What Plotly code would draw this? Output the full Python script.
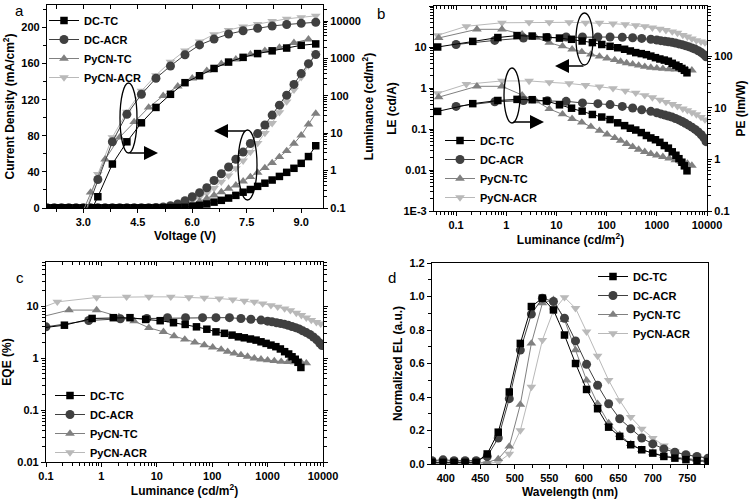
import plotly.graph_objects as go

W, H = 750, 504
FONT = "Liberation Sans, Arial, sans-serif"

# ---------------- data ----------------
series = ["DC-TC", "DC-ACR", "PyCN-TC", "PyCN-ACR"]

# panel a: current density vs voltage
volt_j = [2.0, 2.2, 2.4, 2.6, 2.8, 3.0, 3.2, 3.4, 3.6, 3.8, 4.0, 4.2, 4.4, 4.6, 4.8, 5.0, 5.2, 5.4, 5.6,
          5.8, 6.0, 6.2, 6.4, 6.6, 6.8, 7.0, 7.2, 7.4, 7.6, 7.8, 8.0, 8.2, 8.4, 8.6, 8.8, 9.0, 9.2, 9.4]
j_dc_tc = [0.3, 0.3, 0.3, 0.3, 0.3, 0.3, 0.3, 0.3, 0.3, 0.3, 0.3, 0.3, 0.3, 0.3, 0.3, 0.4, 0.4, 0.5, 0.6,
           0.8, 2.0, 3.0, 4.5, 6.5, 8.5, 11, 14, 17.5, 20.5, 24, 27.5, 31, 35, 39.5, 44, 49.5, 57, 69]
j_dc_acr = [0.4, 0.4, 0.4, 0.4, 0.4, 0.4, 0.4, 0.4, 0.4, 0.4, 0.4, 0.4, 0.4, 0.4, 0.4, 0.6, 1.2, 2.5, 4.5,
            8, 12.5, 17, 22.5, 30.5, 38, 45.5, 54, 62, 71.5, 82.5, 92, 103, 114, 125, 137, 149, 160, 170]
j_pycn_tc = [0.3, 0.3, 0.3, 0.3, 0.3, 0.3, 0.3, 0.3, 0.3, 0.3, 0.3, 0.3, 0.3, 0.3, 0.3, 0.3, 0.3, 1.0, 1.8,
             3.0, 4.9, 7.4, 10.4, 14.1, 17.7, 21.5, 25.2, 29.6, 34.4, 39.3, 44.4, 49.9, 56.6, 63.2, 71.4, 80.6, 92.8, 104.7]
j_pycn_acr = [0.3, 0.3, 0.3, 0.3, 0.3, 0.3, 0.3, 0.3, 0.3, 0.3, 0.3, 0.3, 0.3, 0.3, 0.3, 0.3, 0.8, 1.5, 3,
              5, 8, 12, 16.5, 22, 29, 36, 44, 52.5, 62, 72, 83, 94, 106, 118, 131, 145, 158, 172]

# panel a: luminance vs voltage
volt_l_a = [3.0, 3.4, 3.8, 4.2, 4.6, 5.0, 5.4, 5.8, 6.2, 6.6, 7.0, 7.4, 7.8, 8.2, 8.6, 9.0, 9.4]
volt_l_b = [2.8, 3.2, 3.6, 4.0, 4.4, 4.8, 5.2, 5.6, 6.0, 6.4, 6.8, 7.2, 7.6, 8.0, 8.4, 8.8, 9.2]
lum_dc_tc = [0.03, 0.2, 1.5, 5.9, 19, 49, 110, 225, 345, 540, 800, 1070, 1350, 1600, 1900, 2250, 2450]
lum_dc_acr = [0.05, 0.58, 5.9, 32, 110, 295, 630, 1260, 2300, 3300, 4500, 5500, 6450, 7400, 8100, 8700, 9300]
lum_pycn_tc = [0.03, 0.26, 2.0, 7.8, 20, 49, 100, 180, 295, 470, 720, 950, 1290, 1620, 1950, 2630, 3240]
lum_pycn_acr = [0.05, 0.8, 7.8, 37, 135, 355, 810, 1620, 2800, 4400, 5750, 7100, 8300, 10000, 11500, 12600, 13800]

# panels b, c: efficiencies vs luminance
lum_x_dc_tc = [0.043, 0.215, 0.68, 1.64, 3.28, 6.3, 11.5, 20, 32.5, 52, 80, 117, 166, 228, 297, 380, 490, 620,
               760, 940, 1150, 1410, 1700, 2030, 2400, 2760, 3160, 3540, 3990]
le_dc_tc = [10, 13.7, 17, 19, 18.5, 17.5, 16.5, 15.4, 14, 12.8, 11.5, 10.4, 9.6, 8.8, 8.0, 7.3, 6.9, 6.5,
            6.0, 5.5, 5.1, 4.8, 4.5, 4.0, 3.6, 3.3, 3.0, 2.7, 2.35]
pe_dc_tc = [8.5, 12, 13.8, 14.5, 14.3, 13.5, 11.4, 9.8, 8.6, 7.4, 6.6, 5.9, 5.1, 4.5, 4.0, 3.7, 3.3, 2.9,
            2.6, 2.4, 2.14, 1.85, 1.65, 1.4, 1.2, 1.03, 0.88, 0.75, 0.6]
eqe_dc_tc = [3.5, 4.3, 5.8, 6.0, 6.0, 5.55, 5.25, 4.8, 4.45, 4.0, 3.6, 3.2, 3.0, 2.77, 2.57, 2.46, 2.33, 2.22,
             2.06, 1.92, 1.78, 1.66, 1.5, 1.33, 1.2, 1.06, 0.95, 0.83, 0.66]

lum_x_dc_acr = [0.1, 0.59, 2.2, 6.6, 15.6, 33, 67, 117, 205, 330, 500, 760, 1000, 1200, 1450, 1700, 2000,
                2350, 2750, 3200, 3700, 4300, 5000, 5800, 6700, 7700, 8700, 9600]
le_dc_acr = [11.5, 14.5, 16.5, 17, 17.5, 17.5, 17.5, 17.5, 17.3, 16.8, 16.2, 15.5, 14.8, 14.3, 13.8, 13.4, 13.0,
             12.5, 11.9, 11.4, 10.8, 10.2, 9.5, 8.9, 8.1, 7.3, 6.5, 5.8]
pe_dc_acr = [10.6, 13.0, 13.8, 13.7, 13.3, 12.4, 12.0, 11.5, 10.6, 9.9, 9.1, 8.5, 8.0, 7.6, 7.2, 6.9, 6.6,
             6.2, 5.8, 5.4, 5.0, 4.6, 4.2, 3.8, 3.4, 3.0, 2.6, 2.2]
eqe_dc_acr = [4.0, 5.3, 5.7, 5.8, 6.0, 6.0, 6.0, 6.0, 6.0, 5.8, 5.6, 5.4, 5.15, 5.0, 4.8, 4.65, 4.5,
              4.3, 4.05, 3.85, 3.65, 3.35, 3.1, 2.85, 2.55, 2.25, 1.95, 1.75]

lum_x_pycn_tc = [0.045, 0.26, 0.82, 2.07, 3.9, 7.2, 13.2, 20.5, 32, 48.5, 72, 102, 145, 190, 250, 330, 435,
                 575, 760, 1000, 1320, 1760, 2340, 3090, 4070, 5000]
le_pycn_tc = [16.6, 27, 27, 20.5, 17, 12.7, 10.5, 8.8, 7.6, 6.6, 5.9, 5.3, 4.85, 4.4, 4.05, 3.8, 3.55,
              3.3, 3.15, 3.05, 2.95, 2.9, 2.85, 2.8, 2.75, 2.7]
pe_pycn_tc = [16, 26, 26, 17.5, 13.5, 9.5, 7.5, 6.1, 5.2, 4.3, 3.6, 3.05, 2.6, 2.3, 2.0, 1.75, 1.55,
              1.4, 1.28, 1.2, 1.12, 1.04, 0.97, 0.9, 0.83, 0.76]
eqe_pycn_tc = [5.3, 8.4, 8.4, 6.2, 5.15, 3.84, 3.2, 2.65, 2.29, 2.0, 1.78, 1.61, 1.47, 1.33, 1.23, 1.15, 1.07,
               0.99, 0.95, 0.91, 0.88, 0.855, 0.85, 0.84, 0.82, 0.8]

lum_x_pycn_acr = [0.043, 0.16, 0.82, 2.85, 7.2, 17.9, 38, 72, 134, 235, 380, 575, 815, 1150, 1520, 2030,
                  2580, 3300, 4070, 5000, 6150, 7600, 9100]
le_pycn_acr = [19.3, 32, 39, 40, 40, 40, 39, 38.5, 37, 35.5, 33.5, 32, 29.5, 27.5, 25.7, 23.8,
               22, 19.6, 17.8, 15.9, 14.5, 13.5, 12.8]
pe_pycn_acr = [19, 28.5, 33, 33, 31, 29.5, 27.3, 25.5, 23.7, 21.3, 19.4, 17.4, 15.8, 14.2, 12.9, 11.7,
               10.7, 9.6, 8.9, 8.1, 7.4, 6.6, 5.9]
eqe_pycn_acr = [7.1, 12.1, 14.7, 15.1, 15.1, 15.1, 14.7, 14.5, 14.0, 13.4, 12.6, 12.1, 11.2, 10.4, 9.7, 9.0,
                8.3, 7.4, 6.7, 6.0, 5.4, 4.9, 4.6]

# panel d: EL spectra
wavelength = [380, 396, 412, 428, 444, 460, 476, 492, 508, 524, 540, 556, 572, 588, 604, 620, 636, 652,
              668, 684, 700, 716, 732, 748, 764, 780]
el_dc_tc = [0.01, 0.01, 0.01, 0.01, 0.01, 0.06, 0.19, 0.43, 0.72, 0.94, 0.99, 0.92, 0.77, 0.60, 0.445, 0.33,
            0.22, 0.165, 0.115, 0.085, 0.065, 0.045, 0.035, 0.026, 0.02, 0.015]
el_dc_acr = [0.02, 0.025, 0.02, 0.02, 0.02, 0.045, 0.155, 0.39, 0.68, 0.895, 0.99, 0.97, 0.87, 0.735, 0.595,
             0.47, 0.36, 0.27, 0.21, 0.155, 0.12, 0.09, 0.07, 0.055, 0.045, 0.035]
el_pycn_tc = [0.005, 0.005, 0.005, 0.005, 0.005, 0.01, 0.03, 0.105, 0.355, 0.72, 0.96, 0.98, 0.86, 0.68, 0.5,
              0.36, 0.245, 0.175, 0.12, 0.085, 0.065, 0.05, 0.04, 0.035, 0.025, 0.02]
el_pycn_acr = [0.005, 0.005, 0.005, 0.005, 0.005, 0.005, 0.01, 0.06, 0.2, 0.46, 0.74, 0.915, 0.995, 0.93, 0.79,
               0.645, 0.5, 0.38, 0.28, 0.21, 0.155, 0.11, 0.075, 0.055, 0.045, 0.035]

# tick labels
log_labels_lum = ["0.1", "1", "10", "100", "1000", "10000"]
log_labels_le = ["1E-3", "0.01", "0.1", "1", "10", "100"]
log_labels_pe = ["0.1", "1", "10", "100"]
log_labels_eqe = ["0.01", "0.1", "1", "10"]

# ---------------- style ----------------
COL = {"DC-TC": "#000000", "DC-ACR": "#404040", "PyCN-TC": "#808080", "PyCN-ACR": "#b9b9b9"}
SYM = {"DC-TC": "square", "DC-ACR": "circle", "PyCN-TC": "triangle-up", "PyCN-ACR": "triangle-down"}
SZ = {"DC-TC": 7.5, "DC-ACR": 9, "PyCN-TC": 8.5, "PyCN-ACR": 8.5}


def px(x):
    return x / W


def py(y):
    return 1 - y / H


def vals(labels):
    return [float(t) for t in labels]


def minors(lo, hi):
    return [m * 10 ** e for e in range(lo, hi) for m in range(2, 10)]


fig = go.Figure()


def add(x, y, xa, ya, s, legend=None):
    fig.add_trace(go.Scatter(
        x=x, y=y, xaxis=xa, yaxis=ya, mode="lines+markers", name=s,
        line=dict(color=COL[s], width=1),
        marker=dict(symbol=SYM[s], size=SZ[s], color=COL[s], line=dict(width=0)),
        showlegend=legend is not None, legend=legend if legend else "legend"))


data_a_j = {"DC-TC": j_dc_tc, "DC-ACR": j_dc_acr, "PyCN-TC": j_pycn_tc, "PyCN-ACR": j_pycn_acr}
data_a_l = {"DC-TC": (volt_l_a, lum_dc_tc), "DC-ACR": (volt_l_a, lum_dc_acr),
            "PyCN-TC": (volt_l_b, lum_pycn_tc), "PyCN-ACR": (volt_l_a, lum_pycn_acr)}
data_bc = {"DC-TC": (lum_x_dc_tc, le_dc_tc, pe_dc_tc, eqe_dc_tc),
           "DC-ACR": (lum_x_dc_acr, le_dc_acr, pe_dc_acr, eqe_dc_acr),
           "PyCN-TC": (lum_x_pycn_tc, le_pycn_tc, pe_pycn_tc, eqe_pycn_tc),
           "PyCN-ACR": (lum_x_pycn_acr, le_pycn_acr, pe_pycn_acr, eqe_pycn_acr)}
data_d = {"DC-TC": el_dc_tc, "DC-ACR": el_dc_acr, "PyCN-TC": el_pycn_tc, "PyCN-ACR": el_pycn_acr}

# draw so that DC-TC ends on top; legends reversed back
for s in reversed(series):
    add(volt_j, data_a_j[s], "x", "y", s, "legend")
    add(data_a_l[s][0], data_a_l[s][1], "x", "y2", s)
    lx, le, pe, eqe = data_bc[s]
    add(lx, le, "x2", "y3", s, "legend2")
    add(lx, pe, "x2", "y4", s)
    add(lx, eqe, "x3", "y5", s, "legend3")
    add(wavelength, data_d[s], "x4", "y6", s, "legend4")

# empty traces to host top tick axes
for xa, ya in [("x5", "y"), ("x6", "y3"), ("x7", "y5")]:
    fig.add_trace(go.Scatter(x=[], y=[], xaxis=xa, yaxis=ya, showlegend=False))

tickfont = dict(family=FONT, size=11, color="black", weight="bold")
titlefont = dict(family=FONT, size=12, color="black", weight="bold")


def axis(title=None, standoff=4, **kw):
    d = dict(showline=True, linecolor="black", linewidth=1.2, ticks="outside", ticklen=4, tickwidth=1.2,
             tickcolor="black", tickfont=tickfont, showgrid=False, zeroline=False, automargin=False)
    if title is not None:
        d["title"] = dict(text=title, font=titlefont, standoff=standoff)
    d.update(kw)
    return d


def minor_lin(dt):
    return dict(dtick=dt, ticks="outside", ticklen=2.5, tickwidth=1, tickcolor="black")


def minor_log(lo, hi, side="outside"):
    return dict(tickmode="array", tickvals=minors(lo, hi), ticks=side, ticklen=2.5, tickwidth=1,
                tickcolor="black")


def top_axis(base, anchor, **kw):
    d = dict(overlaying=base, side="top", anchor=anchor, showline=False, showgrid=False, zeroline=False,
             ticks="inside", ticklen=4, tickwidth=1.2, tickcolor="black", showticklabels=False)
    d.update(kw)
    return d


lum_ticks = vals(log_labels_lum)
B_RANGE = [-1.44, 4]

fig.update_layout(
    width=W, height=H, margin=dict(l=0, r=0, t=0, b=0),
    paper_bgcolor="white", plot_bgcolor="white",
    font=dict(family=FONT, color="black"),
    # panel a
    xaxis=axis("Voltage (V)", domain=[px(47), px(323)], anchor="y", range=[2.0, 9.6],
               tick0=3.0, dtick=1.5, tickformat=".1f", minor=minor_lin(0.75), mirror=True),
    yaxis=axis("Current Density (mA/cm<sup>2</sup>)", domain=[py(208), py(5)], anchor="x", range=[0, 225],
               tick0=0, dtick=40, minor=minor_lin(20)),
    yaxis2=axis("Luminance (cd/m<sup>2</sup>)", overlaying="y", side="right", anchor="x", type="log",
                range=[-1, 4.43], tickvals=lum_ticks, ticktext=log_labels_lum, minor=minor_log(-1, 5)),
    xaxis5=top_axis("x", "y", range=[2.0, 9.6], tick0=3.0, dtick=0.75),
    # panel b
    xaxis2=axis("Luminance (cd/m<sup>2</sup>)", domain=[px(434), px(707)], anchor="y3", type="log",
                range=B_RANGE, tickvals=lum_ticks, ticktext=log_labels_lum, minor=minor_log(-2, 4),
                mirror=True),
    yaxis3=axis("LE (cd/A)", domain=[py(211), py(6)], anchor="x2", type="log", range=[-3, 2],
                tickvals=vals(log_labels_le), ticktext=log_labels_le, minor=minor_log(-3, 2)),
    yaxis4=axis("PE (lm/W)", overlaying="y3", side="right", anchor="x2", type="log", range=[-1, 2.97],
                tickvals=vals(log_labels_pe), ticktext=log_labels_pe, minor=minor_log(-1, 3)),
    xaxis6=top_axis("x2", "y3", type="log", range=B_RANGE, tickvals=lum_ticks,
                    minor=minor_log(-2, 4, "inside")),
    # panel c
    xaxis3=axis("Luminance (cd/m<sup>2</sup>)", domain=[px(46), px(323)], anchor="y5", type="log",
                range=[-1, 4], tickvals=lum_ticks, ticktext=log_labels_lum, minor=minor_log(-1, 4),
                mirror=True),
    yaxis5=axis("EQE (%)", domain=[py(462), py(262)], anchor="x3", type="log", range=[-2, 1.85],
                tickvals=vals(log_labels_eqe), ticktext=log_labels_eqe, minor=minor_log(-2, 2),
                mirror="ticks"),
    xaxis7=top_axis("x3", "y5", type="log", range=[-1, 4], tickvals=lum_ticks,
                    minor=minor_log(-1, 4, "inside")),
    # panel d
    xaxis4=axis("Wavelength (nm)", domain=[px(432), px(708)], anchor="y6", range=[380, 780],
                tick0=400, dtick=50, minor=minor_lin(25), mirror=True),
    yaxis6=axis("Normalized EL (a.u.)", domain=[py(464), py(263)], anchor="x4", range=[0, 1.2],
                tick0=0, dtick=0.2, tickformat=".1f", minor=minor_lin(0.1), mirror=True),
)

legend_common = dict(font=dict(family=FONT, size=11, color="black", weight="bold"),
                     bgcolor="rgba(0,0,0,0)", traceorder="reversed", tracegroupgap=0,
                     xanchor="left", yanchor="top", itemwidth=30)
fig.update_layout(
    legend=dict(x=px(44), y=py(6), **legend_common),
    legend2=dict(x=px(440), y=py(126), **legend_common),
    legend3=dict(x=px(50), y=py(381), **legend_common),
    legend4=dict(x=px(593), y=py(262), **legend_common),
)

# ellipses and arrows
ellipses = [(120, 137, 83, 153), (238, 257, 130, 200), (576, 593, 13, 65), (504, 520, 68, 123)]
shapes = [dict(type="circle", xref="paper", yref="paper", x0=px(a), x1=px(b), y0=py(d), y1=py(c),
               line=dict(color="black", width=1.3)) for a, b, c, d in ellipses]
fig.update_layout(shapes=shapes)

arrows = [((128, 153), (158, 153)), ((247, 131), (214, 131)), ((585, 66), (555, 66)), ((512, 122), (544, 122))]
annotations = []
for (tx, ty), (hx, hy) in arrows:
    annotations.append(dict(x=px(hx), y=py(hy), xref="paper", yref="paper", ax=tx - hx, ay=ty - hy,
                            axref="pixel", ayref="pixel", text="", showarrow=True, arrowhead=2,
                            arrowsize=2, arrowwidth=1.4, arrowcolor="black", standoff=0))
for lab, x, y in [("a", 19, 10), ("b", 381, 13), ("c", 20, 277), ("d", 392, 277)]:
    annotations.append(dict(x=px(x), y=py(y), xref="paper", yref="paper", text=lab, showarrow=False,
                            xanchor="center", yanchor="middle",
                            font=dict(family=FONT, size=15, color="black")))
fig.update_layout(annotations=annotations)

# remove the browser's default 8px body margin so the figure sits at the window origin
fig.write_html("out.html", config={"displayModeBar": False},
               post_script="document.body.style.margin='0px';")
